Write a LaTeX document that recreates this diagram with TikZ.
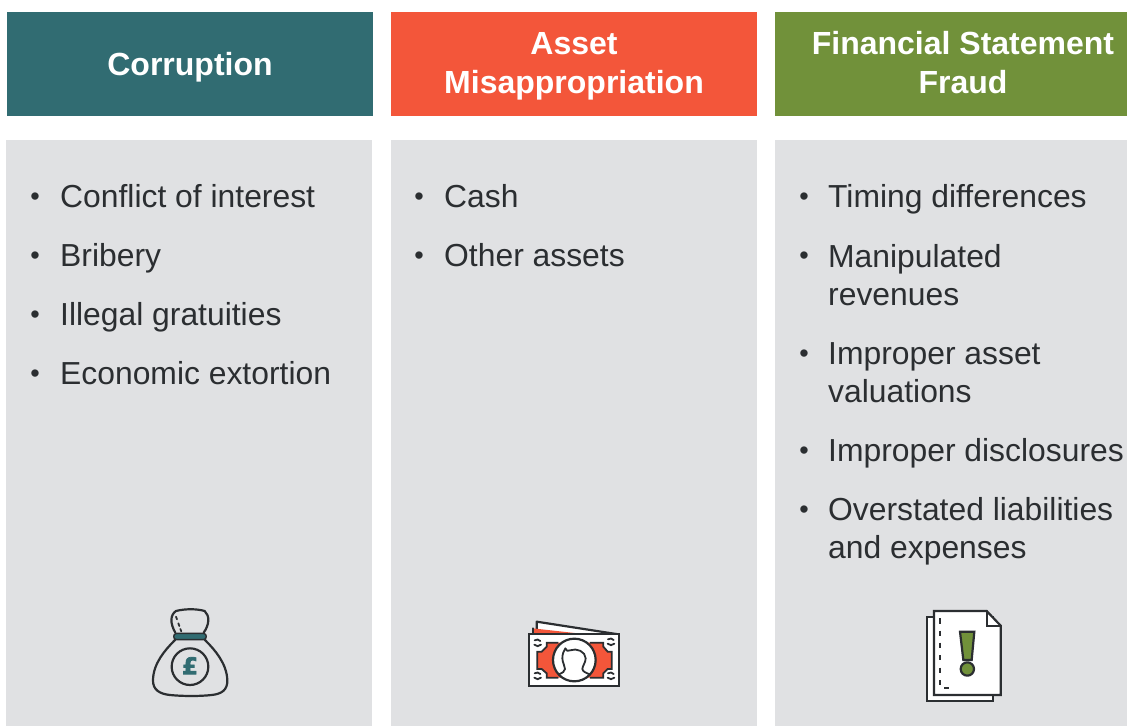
\documentclass[tikz,border=0pt]{standalone}
\usepackage{fontspec}
\setmainfont{Liberation Sans}
\newfontfamily\poundfont{DejaVu Sans}
\definecolor{teal1}{HTML}{316C72}
\definecolor{red1}{HTML}{F3563A}
\definecolor{green1}{HTML}{71913A}
\definecolor{panel}{HTML}{E0E1E3}
\definecolor{ink}{HTML}{2B2E31}
\tikzset{
 head/.style={inner sep=0pt,anchor=base,text=white,align=center,font=\fontsize{32}{39}\selectfont\bfseries},
 panelbox/.style={fill=panel,draw=none},
 bul/.style={inner sep=0pt,anchor=center,text=ink,font=\fontsize{27}{38.5}\selectfont},
 listtext/.style={inner sep=0pt,anchor=base west,align=left,text=ink,font=\fontsize{31.85}{38}\selectfont},
 icon/.style={draw=ink,line width=2.2pt,line join=round,line cap=round},
}
\begin{document}
\begin{tikzpicture}[x=1pt,y=-1pt]
\useasboundingbox (0,0) rectangle (1127,726);
% headers
\fill[teal1] (7,12) rectangle (373,116);
\fill[red1] (391,12) rectangle (757,116);
\fill[green1] (775,12) rectangle (1127,116);
\node[head] (h1) at (190,75) {Corruption};
\node[head] (h2) at (574,93) {Asset\\Misappropriation};
\node[head] (h3) at (963,93) {Financial Statement\\Fraud};
% panels
\fill[panelbox] (6,140) rectangle (372,726);
\fill[panelbox] (391,140) rectangle (757,726);
\fill[panelbox] (775,140) rectangle (1127,726);
% lists: bullet centre y / baseline y of the last line
\foreach \n/\by/\y/\t in {a/199/207/Conflict of interest,b/258/266/Bribery,c/317/325/Illegal gratuities,d/376/384/Economic extortion}{
 \node[bul] (b\n) at (35,\by) {•};
 \node[listtext] (t\n) at (60,\y) {\t};
}
\foreach \n/\by/\y/\t in {e/199/207/Cash,f/258/266/Other assets}{
 \node[bul] (b\n) at (419,\by) {•};
 \node[listtext] (t\n) at (444,\y) {\t};
}
\foreach \n/\by/\y/\t in {g/199/207/Timing differences,h/258/305/Manipulated\\revenues,i/356/402/Improper asset\\valuations,j/453/461/Improper disclosures,k/512/558/Overstated liabilities\\and expenses}{
 \node[bul] (b\n) at (804,\by) {•};
 \node[listtext] (t\n) at (828,\y) {\t};
}
% money bag
\begin{scope}[shift={(130,595)},x=0.3333pt,y=-0.3333pt]
 \draw[icon] (136,113) .. controls (120,85) and (120,60) .. (138,48) .. controls (165,41) and (200,41) .. (224,48) .. controls (240,62) and (238,90) .. (221,113);
 \draw[icon,line width=1.8pt] (138,65) -- (141,73) (145,85) -- (148,93) (151,102) -- (154,109);
 \draw[icon] (135,135) .. controls (105,165) and (70,205) .. (69,255) .. controls (68,285) and (90,297) .. (120,300) .. controls (160,304) and (210,304) .. (245,300) .. controls (275,297) and (293,285) .. (292,255) .. controls (290,205) and (255,165) .. (225,135);
 \draw[icon,fill=teal1,line width=1.4pt] (140,115) -- (220,115) .. controls (232,115) and (232,134) .. (220,134) -- (140,134) .. controls (128,134) and (128,115) .. (140,115) -- cycle;
 \draw[icon] (180,215) circle[radius=55];
 \node[inner sep=0pt,text=teal1,font=\poundfont\fontsize{23}{23}\selectfont\bfseries] (pound) at (180,212) {\special{pdf:code 2 Tr 0.7 w}£\special{pdf:code 0 Tr}};
\end{scope}
% banknote
\begin{scope}[shift={(515,605)},x=0.3333pt,y=-0.3333pt]
 \draw[icon,fill=white] (65,72) -- (65,50) -- (310,88) -- (65,88) -- cycle;
 \fill[red1] (53,70) -- (215,88) -- (53,88) -- cycle;
 \draw[icon] (53,88) -- (53,70);
 \draw[icon,fill=white,line join=miter] (42,88) rectangle (313,243);
 \fill[red1] (95,113) -- (265,113) -- (265,125) -- (278,140) -- (290,140) -- (290,192) -- (278,192) -- (265,205) -- (265,218) -- (95,218) -- (95,205) -- (80,192) -- (67,192) -- (67,140) -- (80,140) -- (95,125) -- cycle;
 \draw[ink,line width=1.8pt] (130,113) -- (95,113) -- (95,125) -- (80,140) -- (67,140) -- (67,192) -- (80,192) -- (95,205) -- (95,218) -- (130,218)
   (225,113) -- (265,113) -- (265,125) -- (278,140) -- (290,140) -- (290,192) -- (278,192) -- (265,205) -- (265,218) -- (225,218);
 \draw[icon,fill=white] (178,165) circle[radius=64];
 \draw[icon,line width=1.8pt] (132,208) .. controls (142,203) and (150,200) .. (150,192) .. controls (150,182) and (143,175) .. (142,160) .. controls (142,148) and (146,138) .. (151,130) .. controls (155,138) and (158,140) .. (165,136) .. controls (185,128) and (212,140) .. (212,160) .. controls (212,172) and (203,182) .. (202,192) .. controls (203,200) and (214,204) .. (224,208);
 \foreach \cx/\cy in {68/113,288/110,68/212,288/212}{
   \draw[ink,line width=1.8pt,line cap=round] (\cx-9,\cy-7) .. controls (\cx-3,\cy-11) and (\cx+3,\cy-10) .. (\cx+8,\cy-5);
   \draw[ink,line width=1.8pt,line cap=round] (\cx-10,\cy+6) .. controls (\cx-4,\cy+12) and (\cx+4,\cy+12) .. (\cx+10,\cy+6);
 }
\end{scope}
% document
\begin{scope}[shift={(910,600)},x=0.3333pt,y=-0.3333pt]
 \draw[icon,fill=white,line join=miter] (50,50) rectangle (250,302);
 \draw[icon,fill=white,line join=miter] (72,33) -- (230,33) -- (272,77) -- (272,285) -- (72,285) -- cycle;
 \draw[icon,line join=miter] (230,33) -- (230,77) -- (272,77);
 \foreach \s in {55,92,128,165,203,240}{
   \draw[ink,line width=2pt] (90,\s) -- (90,\s+16);
 }
 \draw[ink,line width=2pt] (102,263) -- (118,263);
 \draw[icon,fill=green1,line join=miter] (150,95) -- (193,95) -- (185,180) -- (160,180) -- cycle;
 \draw[icon,fill=green1] (172,207) circle[radius=20];
\end{scope}
\end{tikzpicture}
\end{document}
